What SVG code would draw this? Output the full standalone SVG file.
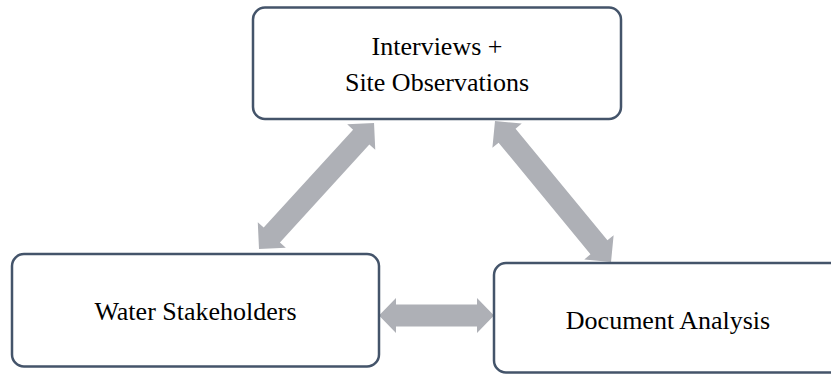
<svg xmlns="http://www.w3.org/2000/svg" width="831" height="374" viewBox="0 0 831 374">
  <style>
    .box { fill: #ffffff; stroke: #44546A; stroke-width: 2.5; }
    .lbl { font-family: "Liberation Serif", "Times New Roman", serif; font-size: 26px; fill: #000000; text-anchor: middle; }
    .arr { fill: #AEB0B6; stroke: none; }
  </style>
  <rect width="831" height="374" fill="#ffffff"/>
  <g id="connectors">
    <path class="arr" transform="translate(379,315.5)" d="M0,0 L17,-17.5 L17,-11 L98,-11 L98,-17.5 L115,0 L98,17.5 L98,11 L17,11 L17,17.5 Z"/>
    <path class="arr" transform="translate(259,249) rotate(-47.6)" d="M0,0 L19,-19 L19,-11 L151.6,-11 L151.6,-19 L170.6,0 L151.6,19 L151.6,11 L19,11 L19,19 Z"/>
    <path class="arr" transform="translate(495,121) rotate(50.55)" d="M0,0 L19,-19 L19,-11 L163.6,-11 L163.6,-19 L182.6,0 L163.6,19 L163.6,11 L19,11 L19,19 Z"/>
  </g>
  <g id="node-interviews">
    <rect class="box" x="253" y="7.5" width="368" height="111.5" rx="12"/>
    <text class="lbl" x="437" y="55">Interviews +</text>
    <text class="lbl" x="437" y="91">Site Observations</text>
  </g>
  <g id="node-water">
    <rect class="box" x="12" y="254" width="367" height="112.5" rx="12"/>
    <text class="lbl" x="195.5" y="320">Water Stakeholders</text>
  </g>
  <g id="node-document">
    <rect class="box" x="494" y="263" width="400" height="109.5" rx="12"/>
    <text class="lbl" x="668" y="329">Document Analysis</text>
  </g>
</svg>
